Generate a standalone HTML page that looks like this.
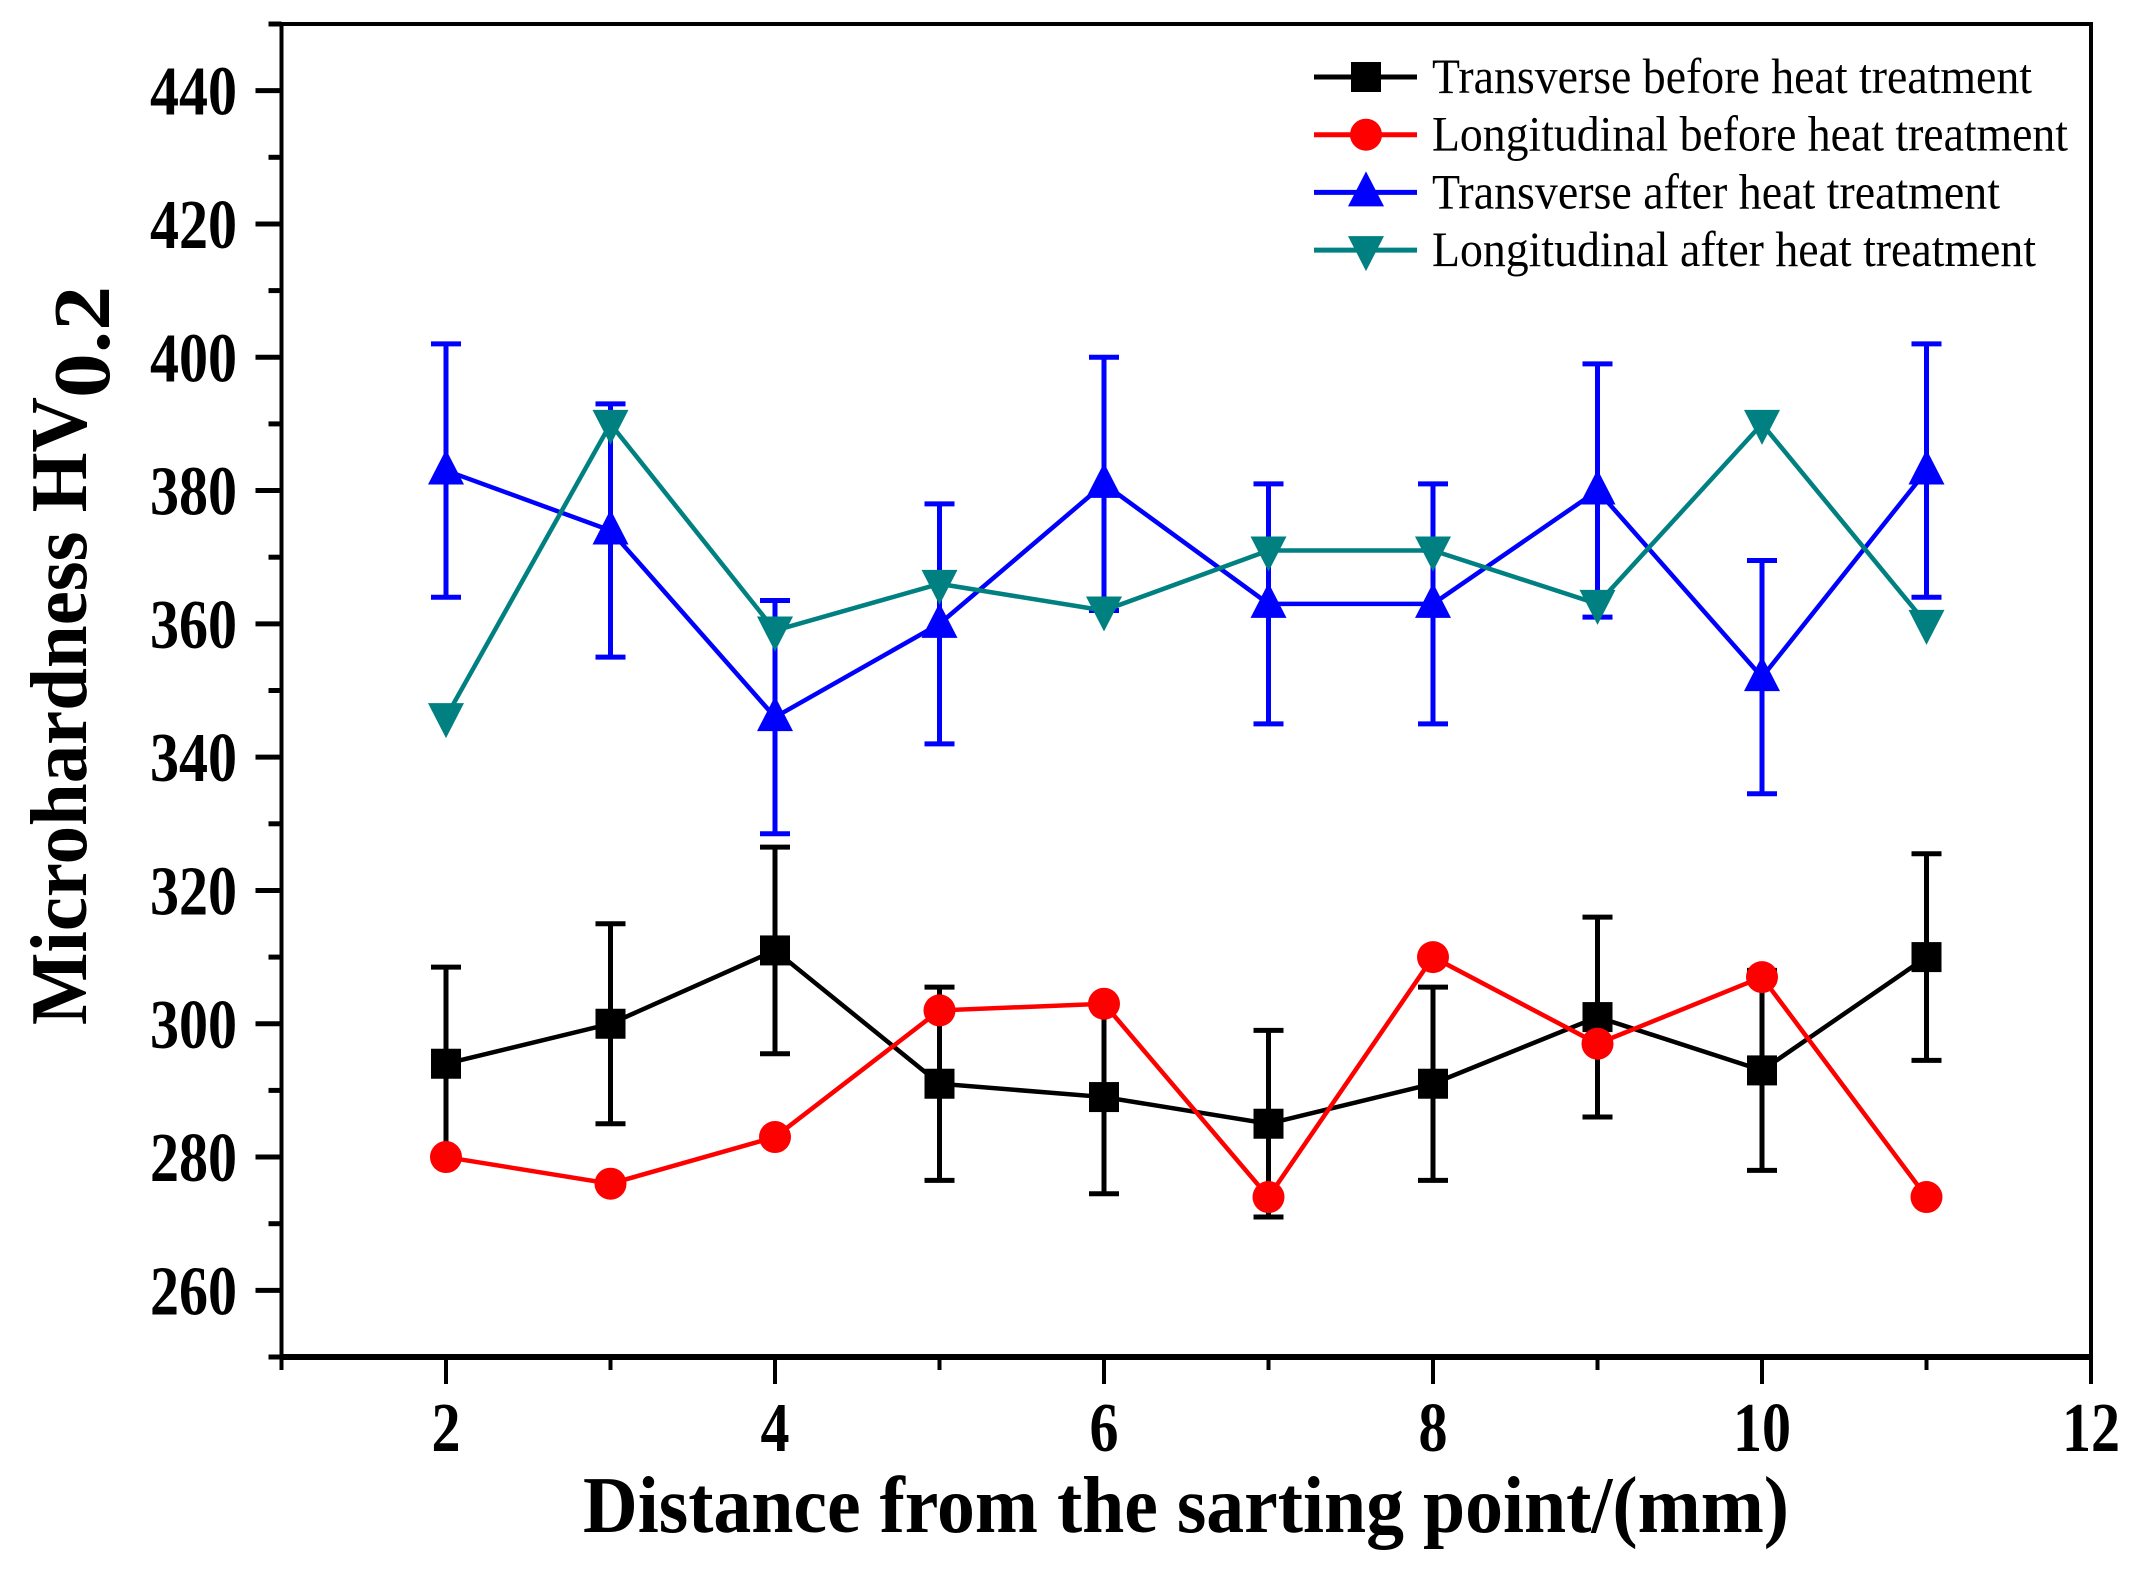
<!DOCTYPE html>
<html><head><meta charset="utf-8"><style>html,body{margin:0;padding:0;background:#fff}svg{display:block}</style></head>
<body>
<svg id="chart" width="2152" height="1571" viewBox="0 0 2152 1571" xmlns="http://www.w3.org/2000/svg" font-family="'Liberation Serif', serif">
<g id="plot"></g>
</svg>
<script>
const xs = [2,3,4,5,6,7,8,9,10,11];
const transBefore = [294,300,311,291,289,285,291,301,293,310];
const transBeforeErr = [14.5,15,15.5,14.5,14.5,14,14.5,15,15,15.5];
const longBefore = [280,276,283,302,303,274,310,297,307,274];
const transAfter = [383,374,346,360,381,363,363,380,352,383];
const transAfterErr = [19,19,17.5,18,19,18,18,19,17.5,19];
const longAfter = [346,390,359,366,362,371,371,363,390,360];
const xTicks = [2,4,6,8,10,12];
const yTicks = [260,280,300,320,340,360,380,400,420,440];

const L=281.5,R=2091,T=24,B=1357;
const X0=1,X1=12,Y0=250,Y1=450;
const sx=v=>L+(v-X0)/(X1-X0)*(R-L);
const sy=v=>B-(v-Y0)/(Y1-Y0)*(B-T);
const NS='http://www.w3.org/2000/svg';
const g=document.getElementById('plot');
function mk(tag,attrs,parent){const e=document.createElementNS(NS,tag);for(const k in attrs)e.setAttribute(k,attrs[k]);(parent||g).appendChild(e);return e;}

let e;
e=mk('rect',{x:L,y:T,width:R-L,height:B-T,fill:'none',stroke:'#000','stroke-width':4});


e=mk('line',{x1:L-2,y1:B,x2:R+2,y2:B,stroke:'#000','stroke-width':6});



for(let v=250;v<=450;v+=10){
  const major=yTicks.includes(v);
  e=mk('line',{x1:L-(major?26:13),y1:sy(v),x2:L,y2:sy(v),stroke:'#000','stroke-width':5});
  
  
}
yTicks.forEach(v=>{
  const s=String(v);
  e=mk('text',{x:237,y:sy(v)+24,'text-anchor':'end','font-size':70,'font-weight':'bold',textLength:29*s.length,lengthAdjust:'spacingAndGlyphs'});
  e.textContent=s;
  
  
});
for(let v=1;v<=12;v++){
  const major=xTicks.includes(v);
  e=mk('line',{x1:sx(v),y1:B,x2:sx(v),y2:B+(major?27:13),stroke:'#000','stroke-width':4});
  
  
}
xTicks.forEach(v=>{
  const s=String(v);
  e=mk('text',{x:sx(v),y:1451,'text-anchor':'middle','font-size':70,'font-weight':'bold',textLength:29*s.length,lengthAdjust:'spacingAndGlyphs'});
  e.textContent=s;
  
  
});
e=mk('text',{x:583,y:1532,'font-size':80,'font-weight':'bold',textLength:1206,lengthAdjust:'spacingAndGlyphs'});
e.textContent='Distance from the sarting point/(mm)';


e=mk('text',{x:0,y:0,transform:'translate(86,1025) rotate(-90)','font-size':80,'font-weight':'bold',textLength:628,lengthAdjust:'spacingAndGlyphs'});
e.textContent='Microhardness HV';


e=mk('text',{x:0,y:0,transform:'translate(109,398) rotate(-90)','font-size':80,'font-weight':'bold',textLength:112,lengthAdjust:'spacingAndGlyphs'});
e.textContent='0.2';



function marker(type,cx,cy,color,parent){
  if(type==='square') return mk('rect',{x:cx-15,y:cy-15,width:30,height:30,fill:color},parent);
  if(type==='circle') return mk('circle',{cx:cx,cy:cy,r:16,fill:color},parent);
  if(type==='up') return mk('polygon',{points:`${cx},${cy-21} ${cx-18},${cy+14} ${cx+18},${cy+14}`,fill:color},parent);
  return mk('polygon',{points:`${cx},${cy+21} ${cx-18},${cy-14} ${cx+18},${cy-14}`,fill:color},parent);
}
function series(name,vals,errs,color,type){
  const sg=mk('g',{});
  
  
  if(errs){
    vals.forEach((v,i)=>{
      const x=sx(xs[i]);
      e=mk('path',{d:`M${x},${sy(v+errs[i])}V${sy(v-errs[i])}M${x-15},${sy(v+errs[i])}H${x+15}M${x-15},${sy(v-errs[i])}H${x+15}`,stroke:color,'stroke-width':5,fill:'none'},sg);
      
      
    });
  }
  e=mk('polyline',{points:vals.map((v,i)=>sx(xs[i])+','+sy(v)).join(' '),fill:'none',stroke:color,'stroke-width':4.5},sg);
  
  
  vals.forEach((v,i)=>{
    e=marker(type,sx(xs[i]),sy(v),color,sg);
    
    
  });
}
series('transverse-before',transBefore,transBeforeErr,'#000000','square');
series('longitudinal-before',longBefore,null,'#ff0000','circle');
series('transverse-after',transAfter,transAfterErr,'#0000ff','up');
series('longitudinal-after',longAfter,null,'#008080','down');

const legLabels=['Transverse before heat treatment','Longitudinal before heat treatment','Transverse after heat treatment','Longitudinal after heat treatment'];
const legColors=['#000000','#ff0000','#0000ff','#008080'];
const legTypes=['square','circle','up','down'];
const legWidths=[600,636,568,604];
const lg=mk('g',{});


legLabels.forEach((t,i)=>{
  const y=77+i*57.7;
  const eg=mk('g',{},lg);
  
  
  mk('line',{x1:1314,y1:y,x2:1417,y2:y,stroke:legColors[i],'stroke-width':5},eg);
  marker(legTypes[i],1366,y,legColors[i],eg);
  const tx=mk('text',{x:1432,y:y+16,'font-size':50,textLength:legWidths[i],lengthAdjust:'spacingAndGlyphs'},eg);
  tx.textContent=t;
});
</script>
</body></html>
